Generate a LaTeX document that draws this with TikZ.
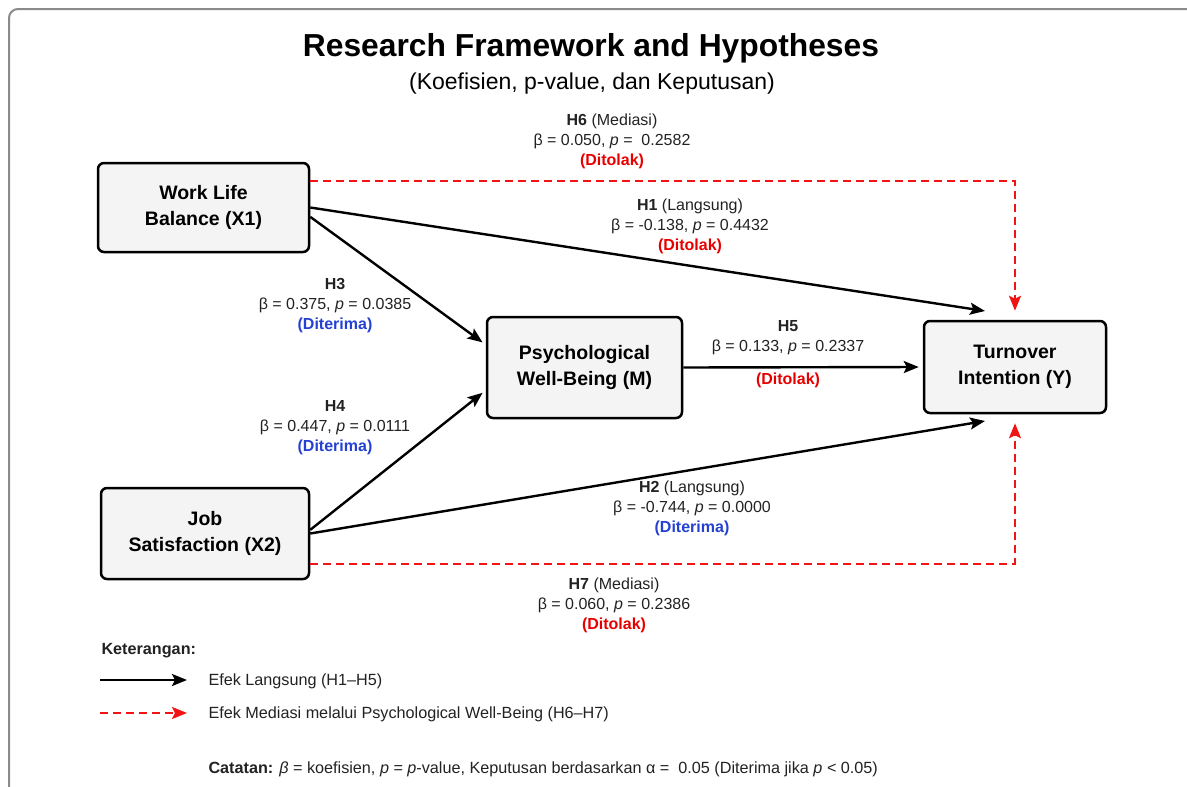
\documentclass[tikz,border=0pt]{standalone}
\usepackage{fontspec}
\setmainfont{Liberation Sans}
\usetikzlibrary{arrows.meta}

\definecolor{boxfill}{HTML}{F4F4F4}
\definecolor{framegray}{HTML}{8A8A8A}
\definecolor{labeltext}{HTML}{222222}
\definecolor{tolakred}{HTML}{E80000}
\definecolor{terimablue}{HTML}{2441D2}
\definecolor{dashred}{HTML}{F01414}

\newcommand{\tolak}{\textcolor{tolakred}{\bfseries(Ditolak)}}
\newcommand{\terima}{\textcolor{terimablue}{\bfseries(Diterima)}}

\tikzset{
  var/.style={draw, line width=2.5pt, rounded corners=6pt, fill=boxfill, inner sep=0pt,
    align=center, font=\fontsize{19.5}{25.5}\selectfont\bfseries},
  lbl/.style={align=center, text=labeltext, font=\fontsize{16}{20}\selectfont},
  legtext/.style={anchor=west, text=labeltext, font=\fontsize{16.2}{19}\selectfont},
  direct/.style={line width=2.4pt, -{Stealth[length=15pt,width=12pt,inset=3pt]}},
  mediasi/.style={draw=dashred, line width=2.3pt, dash pattern=on 8pt off 5pt,
    -{Stealth[length=15pt,width=12pt,inset=3pt]}}
}

\begin{document}
\begin{tikzpicture}[x=1pt,y=-1pt]
\useasboundingbox (0,0) rectangle (1187,787);
\clip (0,0) rectangle (1187,787);
\draw[framegray, line width=2pt, rounded corners=9pt] (9,9) rectangle (1210,810);

%title
\node at (591,48) (title) {\fontsize{31.8}{36}\selectfont\bfseries Research Framework and Hypotheses};
\node at (592,84) (subtitle) {\fontsize{23}{27}\selectfont (Koefisien, p-value, dan Keputusan)};

%variables
\node[var, minimum width=211pt, minimum height=89pt] at (203.5,207.5) (wlb) {Work Life\\Balance (X1)};
\node[var, minimum width=208pt, minimum height=91pt] at (205,533.5) (js) {Job\\Satisfaction (X2)};
\node[var, minimum width=195pt, minimum height=101pt] at (584.5,367.5) (pwb) {Psychological\\Well-Being (M)};
\node[var, minimum width=182pt, minimum height=92pt] at (1015,367) (ti) {Turnover\\Intention (Y)};

%free arrow ends
\coordinate (h1tip) at (985,311);
\coordinate (h2tip) at (985,421);

%direct effects
\draw[direct] (wlb.east) -- (h1tip);
\draw[direct] (js.east) -- (h2tip);
\draw[direct, shorten >=4pt] (wlb.-5) -- (pwb.167);
\draw[direct, shorten >=4pt] (js.2) -- (pwb.193);
\draw[direct, shorten >=4pt] (pwb.east) -- (ti.west);

%mediation
\draw[mediasi, shorten >=9pt] (wlb.14) -| (ti.north);
\draw[mediasi, shorten >=9pt] (js.-16) -| (ti.south);

%labels
\node[lbl] at (612,141) (lh6) {\textbf{H6} (Mediasi)\\β = 0.050, \textit{p} = ~0.2582\\\tolak};
\node[lbl] at (690,226) (lh1) {\textbf{H1} (Langsung)\\β = -0.138, \textit{p} = 0.4432\\\tolak};
\node[lbl] at (335,306) (lh3) {\textbf{H3}\\β = 0.375, \textit{p} = 0.0385\\\terima};
\node[lbl] at (788,338) (lh5) {\textbf{H5}\\β = 0.133, \textit{p} = 0.2337};
\node[lbl] at (788,380) (lh5b) {\tolak};
\node[lbl] at (335,428) (lh4) {\textbf{H4}\\β = 0.447, \textit{p} = 0.0111\\\terima};
\node[lbl] at (692,508) (lh2) {\textbf{H2} (Langsung)\\β = -0.744, \textit{p} = 0.0000\\\terima};
\node[lbl] at (614,605) (lh7) {\textbf{H7} (Mediasi)\\β = 0.060, \textit{p} = 0.2386\\\tolak};

%legend
\node[legtext] at (98,651) (ket) {\bfseries Keterangan:};
\coordinate (lg1a) at (100,680); \coordinate (lg1b) at (187,680);
\coordinate (lg2a) at (100,713); \coordinate (lg2b) at (187,713);
\draw[direct] (lg1a) -- (lg1b);
\draw[mediasi] (lg2a) -- (lg2b);
\node[legtext] at (205,681) (leg1) {Efek Langsung (H1–H5)};
\node[legtext] at (205,714) (leg2) {Efek Mediasi melalui Psychological Well-Being (H6–H7)};
\node[legtext] at (205,769) (note) {\textbf{Catatan:} \textit{β} = koefisien, \textit{p} = \textit{p}-value, Keputusan berdasarkan α = ~0.05 (Diterima jika \textit{p} < 0.05)};

\end{tikzpicture}
\end{document}
